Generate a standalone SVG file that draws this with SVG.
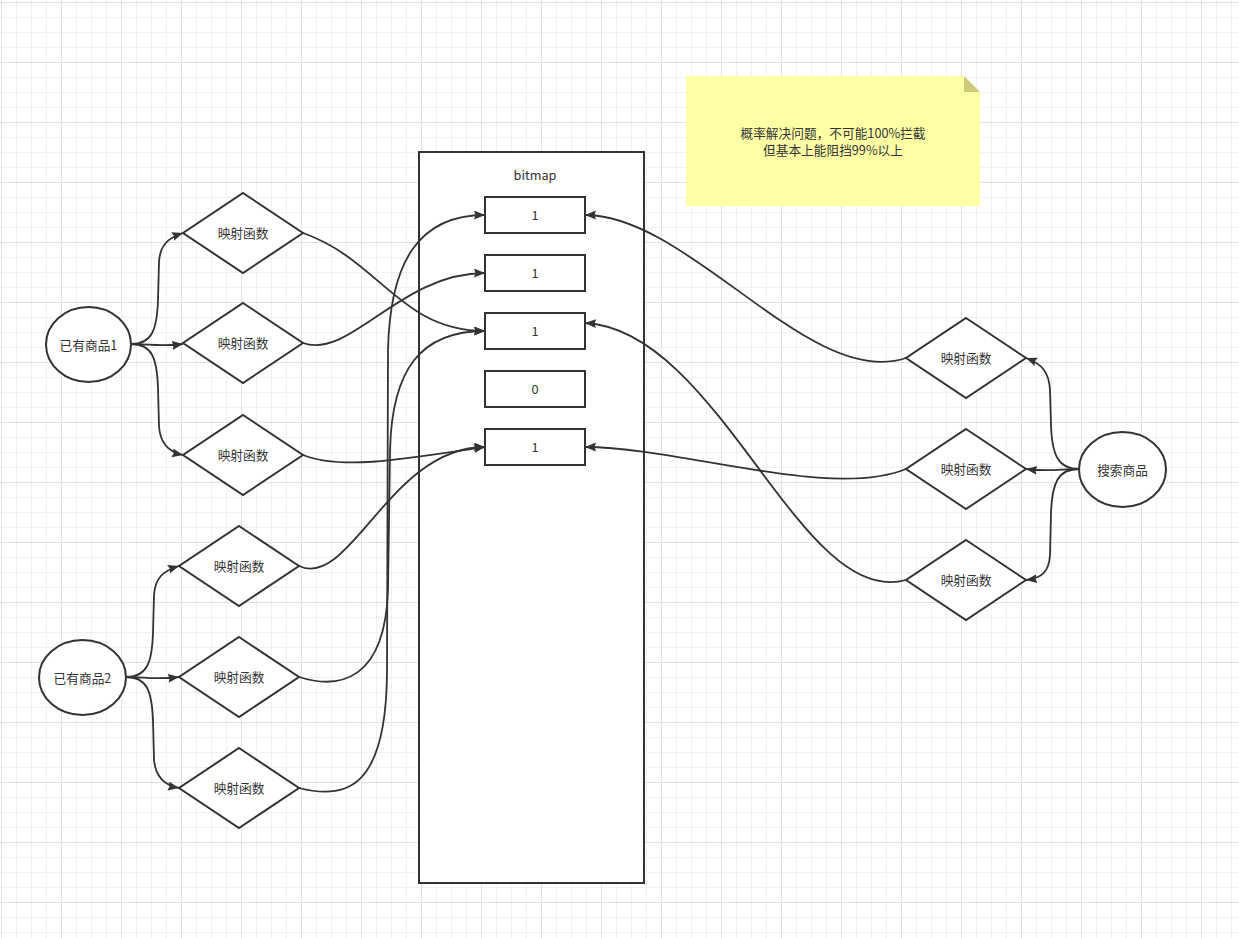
<svg xmlns="http://www.w3.org/2000/svg" width="1239" height="938" viewBox="0 0 1239 938">
<style>
.shape{fill:#fff;stroke:#333;stroke-width:2}
.edge{fill:none;stroke:#333;stroke-width:1.8;marker-end:url(#arr)}
text{font-family:"Noto Sans CJK SC","Liberation Sans",sans-serif;font-size:12.7px;fill:#333;text-anchor:middle;dominant-baseline:central}
</style>
<defs>
<pattern id="grid" x="1" y="2" width="60" height="60" patternUnits="userSpaceOnUse">
<path d="M15.5,0V60M30.5,0V60M45.5,0V60M0,15.5H60M0,30.5H60M0,45.5H60" stroke="#f0f0f0" stroke-width="1" fill="none"/>
<path d="M0.5,0V60M0,0.5H60" stroke="#e2e2e2" stroke-width="1" fill="none"/>
</pattern>
<marker id="arr" markerWidth="13" markerHeight="10" refX="11" refY="4.5" orient="auto" markerUnits="userSpaceOnUse">
<path d="M0,0 L11,4.5 L0,9 L1.5,4.5 z" fill="#333"/>
</marker>
</defs>
<rect width="1239" height="938" fill="#fff"/>
<rect width="1239" height="938" fill="url(#grid)"/>

<g id="note">
<path d="M686,76 H964 L980,92 V206 H686 Z" fill="#ffffa6"/>
<path d="M964,76 L980,92 H964 Z" fill="#cdcb7a"/>
<text x="833" y="132.5">概率解决问题，不可能100%拦截</text>
<text x="833" y="149.5">但基本上能阻挡99%以上</text>
</g>

<g id="bitmap">
<rect class="shape" x="419" y="152" width="225" height="731"/>
<text x="535" y="174.5">bitmap</text>
</g>
<g id="cell1"><rect class="shape" x="485" y="197" width="100" height="36"/><text x="535" y="214.5">1</text></g>
<g id="cell2"><rect class="shape" x="485" y="255" width="100" height="36"/><text x="535" y="272.5">1</text></g>
<g id="cell3"><rect class="shape" x="485" y="313" width="100" height="36"/><text x="535" y="330.5">1</text></g>
<g id="cell4"><rect class="shape" x="485" y="371" width="100" height="36"/><text x="535" y="388.5">0</text></g>
<g id="cell5"><rect class="shape" x="485" y="429" width="100" height="36"/><text x="535" y="446.5">1</text></g>

<g id="item1"><ellipse class="shape" cx="88.5" cy="344.5" rx="42.5" ry="37.5"/><text x="88.5" y="344">已有商品1</text></g>
<g id="item2"><ellipse class="shape" cx="82.5" cy="677.5" rx="43.5" ry="37.5"/><text x="82.5" y="677">已有商品2</text></g>
<g id="search"><ellipse class="shape" cx="1122.5" cy="469.5" rx="43.5" ry="37.5"/><text x="1122.5" y="469">搜索商品</text></g>

<g id="hashL1"><path class="shape" d="M243,193 L303,233 L243,273 L183,233 Z"/><text x="243" y="232.5">映射函数</text></g>
<g id="hashL2"><path class="shape" d="M243,303 L303,343 L243,383 L183,343 Z"/><text x="243" y="342.5">映射函数</text></g>
<g id="hashL3"><path class="shape" d="M243,415 L303,455 L243,495 L183,455 Z"/><text x="243" y="454.5">映射函数</text></g>
<g id="hashL4"><path class="shape" d="M239,526 L299,566 L239,606 L179,566 Z"/><text x="239" y="565.5">映射函数</text></g>
<g id="hashL5"><path class="shape" d="M239,637 L299,677 L239,717 L179,677 Z"/><text x="239" y="676.5">映射函数</text></g>
<g id="hashL6"><path class="shape" d="M239,748 L299,788 L239,828 L179,788 Z"/><text x="239" y="787.5">映射函数</text></g>
<g id="hashR1"><path class="shape" d="M966,318 L1026,358 L966,398 L906,358 Z"/><text x="966" y="357.5">映射函数</text></g>
<g id="hashR2"><path class="shape" d="M966,429 L1026,469 L966,509 L906,469 Z"/><text x="966" y="468.5">映射函数</text></g>
<g id="hashR3"><path class="shape" d="M966,540 L1026,580 L966,620 L906,580 Z"/><text x="966" y="579.5">映射函数</text></g>

<g id="connectors">
<path class="edge" d="M131,344 C152,344 157,330 158,300 L159,262 C160,245 168,238 183,233"/>
<path class="edge" d="M131,344 C150,344 160,347 183,344"/>
<path class="edge" d="M131,344 C152,344 157,358 158,388 L159,426 C160,443 168,452 183,455"/>
<path class="edge" d="M126,677 C147,677 152,663 153,633 L154,595 C155,578 163,571 179,566"/>
<path class="edge" d="M126,677 C145,677 155,680 179,677"/>
<path class="edge" d="M126,677 C147,677 152,691 153,721 L154,759 C155,776 163,785 179,788"/>
<path class="edge" d="M1079,469 C1058,469 1052,455 1051,425 L1050,390 C1049,372 1042,364 1026,358"/>
<path class="edge" d="M1079,469 C1060,469 1050,472 1026,469"/>
<path class="edge" d="M1079,469 C1058,469 1052,483 1051,513 L1050,555 C1049,572 1042,578 1026,580"/>
<path class="edge" d="M303,233 C380,260 400,331 485,331"/>
<path class="edge" d="M303,343 C350,360 400,273 485,273"/>
<path class="edge" d="M303,455 C340,470 400,460 485,447"/>
<path class="edge" d="M299,566 C350,590 390,447 485,447"/>
<path class="edge" d="M299,677 C340,690 385,680 388,590 L390,450 C392,370 420,331 485,331"/>
<path class="edge" d="M299,788 C345,800 386,790 387,673 L388,350 C390,260 420,215 485,215"/>
<path class="edge" d="M906,358 C810,390 690,215 585,215"/>
<path class="edge" d="M906,469 C830,500 680,447 585,447"/>
<path class="edge" d="M906,580 C800,610 720,330 585,323"/>
</g>
</svg>
